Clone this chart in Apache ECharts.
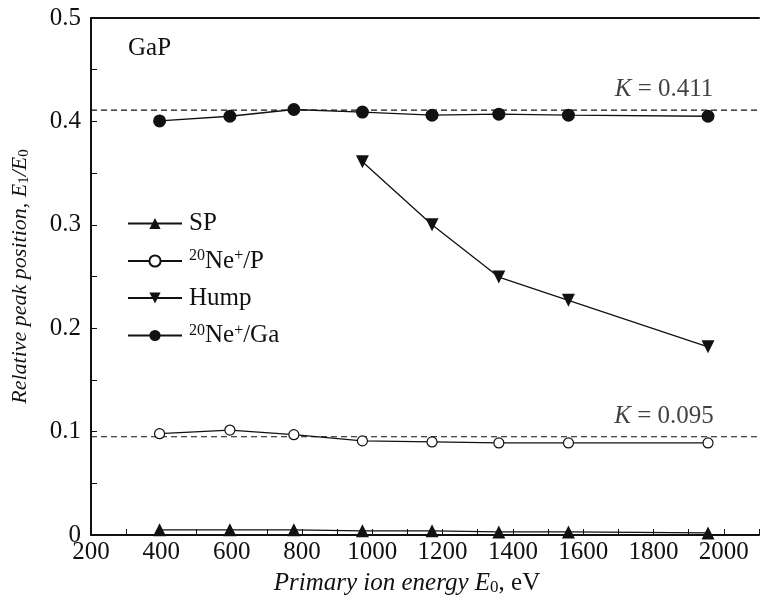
<!DOCTYPE html>
<html><head><meta charset="utf-8">
<script src="https://cdn.jsdelivr.net/npm/echarts@6/dist/echarts.min.js"></script>
<style>html,body{margin:0;padding:0;background:#fff}#c{width:762px;height:604px}</style>
</head><body><div id="c"></div>
<script>
const energies = [395, 595, 777, 972, 1170, 1360, 1558, 1955];
const humpEnergies = [972, 1170, 1360, 1558, 1955];
const spValues = [0.005, 0.005, 0.005, 0.004, 0.004, 0.003, 0.003, 0.002];
const neP = [0.098, 0.1015, 0.097, 0.091, 0.090, 0.089, 0.089, 0.089];
const hump = [0.361, 0.300, 0.2495, 0.227, 0.182];
const neGa = [0.4005, 0.405, 0.4115, 0.409, 0.406, 0.407, 0.406, 0.405];
const kValues = [0.411, 0.095];
const kLabelX = 1830;
const xTicks = [200, 400, 600, 800, 1000, 1200, 1400, 1600, 1800, 2000];

const FONT = '"Liberation Serif","DejaVu Serif",serif';
const FS = 25;
const pair = (xs, ys) => xs.map((x, i) => [x, ys[i]]);
const rich = {
  sup: {fontSize: 16, verticalAlign: 'top', padding: [0, 0, 10, 0], fontFamily: FONT, color: '#111'},
  n: {fontSize: FS, fontFamily: FONT, color: '#111'},
  i: {fontSize: FS, fontStyle: 'italic', fontFamily: FONT, color: '#111'},
  subn: {fontSize: 17, fontFamily: FONT, color: '#111', padding: [9, 0, 0, 0]}
};
const richY = {
  i: {fontSize: 22, fontStyle: 'italic', fontFamily: FONT, color: '#111'},
  sub: {fontSize: 15, fontFamily: FONT, color: '#111', padding: [8, 0, 0, 0]}
};
const legendNames = {
  'SP': '{n|SP}',
  'NeP': '{sup|20}{n|Ne}{sup|+}{n|/P}',
  'Hump': '{n|Hump}',
  'NeGa': '{sup|20}{n|Ne}{sup|+}{n|/Ga}'
};
const lineStyle = {color: '#111', width: 1.3};
const chart = echarts.init(document.getElementById('c'));
chart.setOption({
  animation: false,
  backgroundColor: '#fff',
  grid: {left: 91, top: 18, width: 674, height: 517},
  xAxis: [{
    type: 'value', min: 200, max: 2100, interval: 200,
    axisLine: {lineStyle: {color: '#111', width: 2}},
    axisTick: {inside: true, length: 6, lineStyle: {color: '#111', width: 1}},
    minorTick: {show: true, splitNumber: 2, length: 6, lineStyle: {color: '#111', width: 1}},
    splitLine: {show: false},
    axisLabel: {fontFamily: FONT, fontSize: FS, color: '#111', margin: 5,
      formatter: v => (xTicks.indexOf(v) >= 0 ? String(v) : '')},
    name: '{i|Primary ion energy E}{subn|0}{n|, eV}',
    nameLocation: 'middle', nameGap: 35,
    nameTextStyle: {rich: rich, padding: [0, 36, 0, 0]}
  }, {
    type: 'value', position: 'top', min: 200, max: 2100,
    axisLine: {show: true, lineStyle: {color: '#111', width: 2}},
    axisTick: {show: false}, axisLabel: {show: false}, splitLine: {show: false}
  }],
  yAxis: {
    type: 'value', min: 0, max: 0.5, interval: 0.1,
    axisLine: {show: true, lineStyle: {color: '#111', width: 2}},
    axisTick: {inside: true, length: 6, lineStyle: {color: '#111', width: 1}},
    minorTick: {show: true, splitNumber: 2, length: 6, lineStyle: {color: '#111', width: 1}},
    splitLine: {show: false},
    axisLabel: {fontFamily: FONT, fontSize: FS, color: '#111', margin: 10,
      formatter: v => (v === 0 ? '0' : v.toFixed(1))},
    name: '{i|Relative peak position, E}{sub|1}{i|/E}{sub|0}',
    nameLocation: 'middle', nameGap: 59,
    nameTextStyle: {rich: richY}
  },
  legend: {
    orient: 'vertical', left: 127, top: 211, padding: 0, itemWidth: 54, itemHeight: 14, itemGap: 12,
    data: ['SP', 'NeP', 'Hump', 'NeGa'],
    formatter: name => legendNames[name],
    textStyle: {rich: rich, padding: [0, 0, 0, 2]},
    selectedMode: false
  },
  graphic: [{
    type: 'text', left: 128, top: 36,
    style: {text: 'GaP', font: FS + 'px ' + FONT, fill: '#111'}
  }],
  series: [
    ...kValues.map(k => ({
      type: 'line', silent: true, symbol: 'none', z: 1,
      data: [[200, k], [2100, k]],
      lineStyle: {color: '#111', width: 1.2, type: [6, 4]}
    })),
    {
      type: 'scatter', symbolSize: 0, silent: true,
      data: kValues.map(k => [kLabelX, k]),
      label: {show: true, position: 'top', distance: 8,
        formatter: p => '{i|K}{n| = ' + p.value[1].toFixed(3) + '}', rich: rich}
    },
    {name: 'SP', type: 'line', data: pair(energies, spValues), symbol: 'triangle', symbolSize: 13,
      itemStyle: {color: '#111'}, lineStyle: lineStyle, z: 3},
    {name: 'NeP', type: 'line', data: pair(energies, neP), symbol: 'circle', symbolSize: 10,
      itemStyle: {color: '#fff', borderColor: '#111', borderWidth: 1.2}, lineStyle: lineStyle, z: 3},
    {name: 'Hump', type: 'line', data: pair(humpEnergies, hump), symbol: 'triangle', symbolRotate: 180, symbolSize: 13,
      itemStyle: {color: '#111'}, lineStyle: lineStyle, z: 3},
    {name: 'NeGa', type: 'line', data: pair(energies, neGa), symbol: 'circle', symbolSize: 13,
      itemStyle: {color: '#111'}, lineStyle: lineStyle, z: 3}
  ]
});
</script></body></html>
